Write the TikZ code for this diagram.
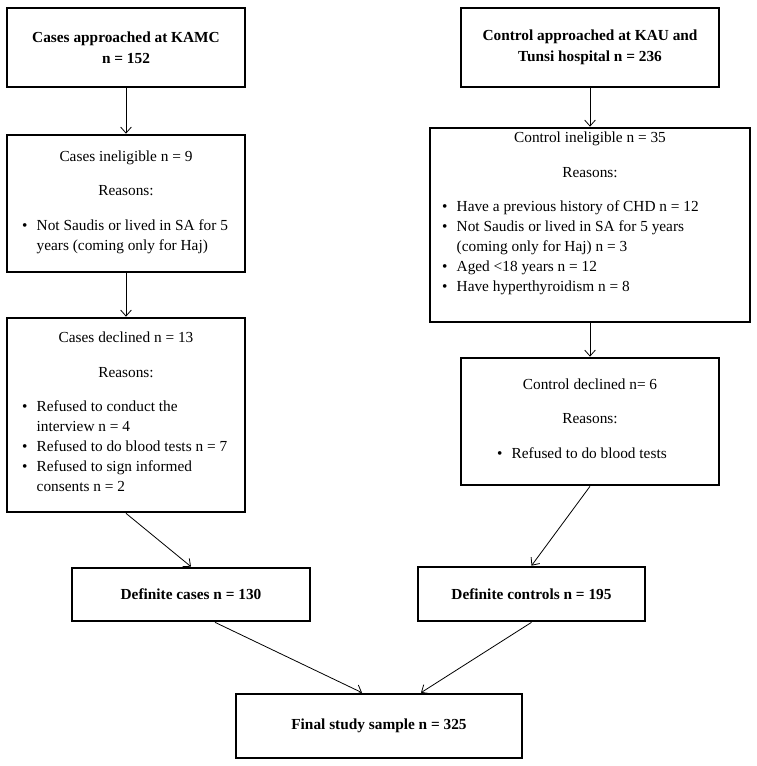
\documentclass[tikz,border=0pt]{standalone}
\usepackage{fontspec}
\setmainfont{Liberation Serif}
\usetikzlibrary{positioning,arrows.meta,calc}

\tikzset{
  flowbox/.style={draw, rectangle, line width=2pt, align=center, inner sep=0pt,
    font=\fontsize{11.5}{15}\selectfont},
  titlebox/.style={flowbox, font=\fontsize{11.5}{15.75}\selectfont\bfseries},
  flowarrow/.style={-{Straight Barb[length=4.5pt,width=8pt]}, line width=0.6pt},
}
% bullet list of fixed width, left aligned inside a centred box
\newcommand{\reasonlist}[2]{\makebox[#1][l]{\begin{tabular}[t]{@{}l@{\hspace{7pt}}l@{}}#2\end{tabular}}}

\begin{document}
\begin{tikzpicture}[x=0.75pt, y=-0.75pt]
            \useasboundingbox (0,0) rectangle (756,766);

            % Cases column
            \node[titlebox, minimum width=178.5pt, minimum height=59.25pt] (casesAppr) at (126,47.5)
                {Cases approached at KAMC\\ n = 152};
            \node[flowbox, minimum width=178.5pt, minimum height=102.75pt] (casesInel) at (126,203.5)
                {Cases ineligible n = 9\\[11pt] Reasons:\\[11pt]
                 \reasonlist{156pt}{\textbullet & Not Saudis or lived in SA for 5\\ & years (coming only for Haj)}};
            \node[flowbox, minimum width=178.5pt, minimum height=145.5pt] (casesDecl) at (126,415)
                {Cases declined n = 13\\[11pt] Reasons:\\[11pt]
                 \reasonlist{156pt}{\textbullet & Refused to conduct the\\ & interview n = 4\\
                   \textbullet & Refused to do blood tests n = 7\\
                   \textbullet & Refused to sign informed\\ & consents n = 2}};

            % Control column
            \node[titlebox, minimum width=193.5pt, minimum height=59.25pt] (ctrlAppr) at (590,47.5)
                {Control approached at KAU and\\ Tunsi hospital n = 236};
            \node[flowbox, minimum width=240pt, minimum height=145.5pt] (ctrlInel) at (590,225)
                {Control ineligible n = 35\\[11pt] Reasons:\\[11pt]
                 \reasonlist{222pt}{\textbullet & Have a previous history of CHD n = 12\\
                   \textbullet & Not Saudis or lived in SA for 5 years\\ & (coming only for Haj) n = 3\\
                   \textbullet & Aged <18 years n = 12\\
                   \textbullet & Have hyperthyroidism n = 8\\ & }};
            \node[flowbox, minimum width=193.5pt, minimum height=95.25pt] (ctrlDecl) at (590,421.5)
                {Control declined n= 6\\[11pt] Reasons:\\[11pt]
                 \reasonlist{139.5pt}{\textbullet & Refused to do blood tests}};

            % Definite groups and final sample
            \node[titlebox, minimum width=178.5pt, minimum height=39.75pt] (casesDef) at (191,594.5)
                {Definite cases n = 130};
            \node[titlebox, minimum width=170.25pt, minimum height=40.5pt] (ctrlDef) at (531.5,594)
                {Definite controls n = 195};
            \node[titlebox, minimum width=214.5pt, minimum height=48pt] (final) at (379,726)
                {Final study sample n = 325};

            % Connectors
            \draw[flowarrow] (casesAppr) -- (casesInel);
            \draw[flowarrow] (casesInel) -- (casesDecl);
            \draw[flowarrow] (ctrlAppr) -- (ctrlInel);
            \draw[flowarrow] (ctrlInel) -- (ctrlDecl);
            \draw[flowarrow] (casesDecl.south) -- (casesDef.north);
            \draw[flowarrow] (ctrlDecl.south) -- (ctrlDef.north);
            \draw[flowarrow] ([xshift=18pt]casesDef.south) -- ([xshift=-12.75pt]final.north);
            \draw[flowarrow] (ctrlDef.south) -- ([xshift=31.5pt]final.north);
        \end{tikzpicture}
\end{document}
